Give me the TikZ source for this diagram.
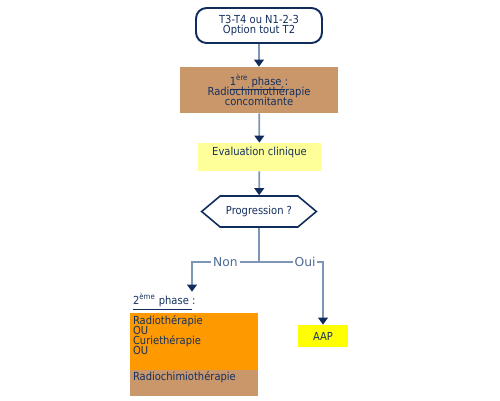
\documentclass[tikz,border=0pt]{standalone}
\usepackage{fontspec}
\setmainfont{DejaVu Sans}
\newfontfamily\condfont{DejaVu Sans Condensed}
\usetikzlibrary{positioning, arrows.meta, shapes.symbols}
\definecolor{dnavy}{HTML}{102C5C}
\definecolor{tnavy}{HTML}{14305E}
\definecolor{lgblue}{HTML}{7D95B6}
\definecolor{mblue}{HTML}{4F6C93}
\definecolor{dtan}{HTML}{C9976A}
\definecolor{dorange}{HTML}{FF9900}
\definecolor{lyellow}{HTML}{FFFF99}
\definecolor{dyellow}{HTML}{FFFF00}
\newcommand\boxfont{\condfont\fontsize{6.3}{5.8}\selectfont\lineskiplimit=-6pt\relax}

\begin{document}
\begin{tikzpicture}[x=0.02cm, y=-0.02cm,
    txt/.style={font=\boxfont, text=tnavy, align=center},
    startbox/.style={txt, draw=dnavy, line width=1.1pt, fill=white, rounded corners=6pt, minimum width=2.52cm, minimum height=0.7cm, inner sep=1pt},
    phasebox/.style={txt, fill=dtan, minimum width=3.16cm, minimum height=0.92cm},
    evalbox/.style={txt, fill=lyellow, minimum width=2.46cm, inner ysep=0.04cm, text height=0.2cm, text depth=0.28cm},
    decision/.style={txt, draw=dnavy, line width=0.9pt, fill=white, signal, signal to=east and west, signal pointer angle=80, minimum width=2.28cm, minimum height=0.62cm},
    listbox/.style={txt, align=left, text width=2.44cm, inner xsep=0.06cm, inner ysep=0.04cm, outer sep=0pt, text height=0.18cm},
    aapbox/.style={txt, fill=dyellow, minimum width=1cm, minimum height=0.44cm},
    conn/.style={draw=lgblue, line width=1pt},
    arr/.style={conn, -{Triangle[length=4pt, width=5.5pt, color=dnavy]}},
    lbl/.style={font=\fontsize{7}{8}\selectfont, text=mblue, fill=white, inner sep=1pt},
]
\useasboundingbox (0,0) rectangle (500,400);

% Blocks
\node[startbox] (start) at (259,25.5) {T3-T4 ou N1-2-3\\Option tout T2};
\node[phasebox] (phase1) at (259,90) {\underline{1\textsuperscript{ère} phase\ }:\\Radiochimiothérapie\\concomitante};
\node[evalbox] (eval) at (259.5,157) {Evaluation clinique};
\node[decision] (prog) at (259,211.5) {Progression ?};

% Branches
\coordinate (split) at (259,262);
\coordinate (nonturn) at (192,262);
\coordinate (ouiturn) at (323,262);

\node[txt, anchor=west, inner sep=1pt] (p2title) at (131,302) {\underline{2\textsuperscript{ème} phase\ }:};
\node[listbox, anchor=north west, text depth=0.88cm, fill=dorange] (p2main) at (130,313) {Radiothérapie\\OU\\Curiethérapie\\OU};
\node[listbox, anchor=north west, text depth=0.26cm, fill=dtan] (p2alt) at (p2main.south west) {Radiochimiothérapie};
\node[aapbox] (aap) at (323,336) {AAP};

% Arrows
\draw[arr] (start) -- (phase1);
\draw[arr] (phase1) -- (eval);
\draw[arr] (eval) -- (prog);
\draw[conn] (prog.south) -- (split);
\draw[arr] (split) -- node[lbl]{Non} (nonturn) -- (nonturn |- p2title.north);
\draw[arr] (split) -- node[lbl, pos=0.72]{Oui} (ouiturn) -- (aap);

\end{tikzpicture}
\end{document}
